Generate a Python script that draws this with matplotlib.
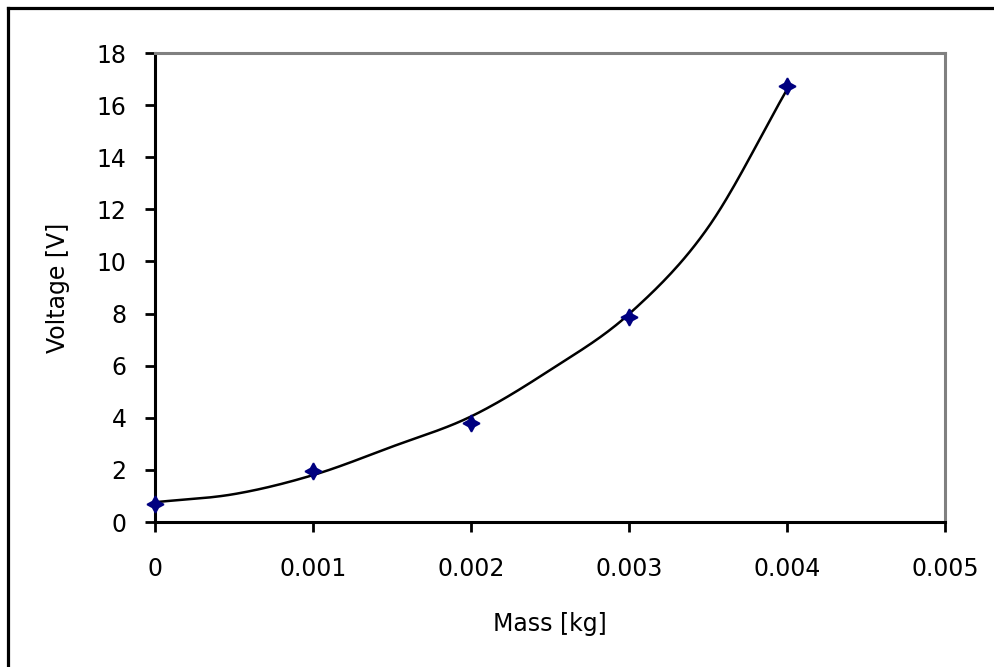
import numpy as np
import matplotlib
matplotlib.use("Agg")
import matplotlib.pyplot as plt
from matplotlib.lines import Line2D

# measured points
mass = [0.0, 0.001, 0.002, 0.003, 0.004]
voltage = [0.7, 1.97, 3.79, 7.85, 16.74]

# smooth fit curve
fit_mass = [0.0, 0.0005, 0.001, 0.0015, 0.002, 0.0025, 0.003, 0.0035, 0.004]
fit_voltage = [0.76, 1.07, 1.80, 2.89, 4.05, 5.83, 7.98, 11.3, 16.6]

x_ticks = [0, 0.001, 0.002, 0.003, 0.004, 0.005]
x_tick_labels = ["0", "0.001", "0.002", "0.003", "0.004", "0.005"]
y_ticks = [0, 2, 4, 6, 8, 10, 12, 14, 16, 18]


def smooth(xp, yp, n=30):
    # catmull-rom through the given points
    xp = np.asarray(xp, float)
    yp = np.asarray(yp, float)
    px = np.concatenate([[2*xp[0]-xp[1]], xp, [2*xp[-1]-xp[-2]]])
    py = np.concatenate([[2*yp[0]-yp[1]], yp, [2*yp[-1]-yp[-2]]])
    t = np.linspace(0, 1, n, endpoint=False)
    ox, oy = [], []
    for i in range(1, len(px) - 2):
        for p, o in ((px, ox), (py, oy)):
            p0, p1, p2, p3 = p[i-1], p[i], p[i+1], p[i+2]
            o.extend(0.5*(2*p1 + (-p0+p2)*t + (2*p0-5*p1+4*p2-p3)*t**2
                          + (-p0+3*p1-3*p2+p3)*t**3))
    ox.append(xp[-1])
    oy.append(yp[-1])
    return ox, oy


plt.rcParams['font.family'] = ['DejaVu Sans']

fig = plt.figure(figsize=(9.95, 6.67), dpi=100)
ax = fig.add_axes([155/995, 1-522/667, (945-155)/995, (522-53)/667])

cx, cy = smooth(fit_mass, fit_voltage)
ax.plot(cx, cy, color='black', lw=1.8, zorder=2)
ax.plot(mass, voltage, linestyle='none', marker=(4, 1, 0), markersize=12,
        color='#000080', markeredgewidth=1.2, zorder=3, clip_on=False)

ax.set_xlim(0, 0.005)
ax.set_ylim(0, 18)
ax.set_xticks(x_ticks)
ax.set_xticklabels(x_tick_labels)
ax.set_yticks(y_ticks)
ax.tick_params(direction='out', length=7.5, width=2, labelsize=17, colors='black')
ax.tick_params(axis='x', pad=18)
ax.tick_params(axis='y', pad=13)
for s in ['left', 'bottom']:
    ax.spines[s].set_linewidth(2.2)
    ax.spines[s].set_color('black')
for s in ['top', 'right']:
    ax.spines[s].set_linewidth(2.2)
    ax.spines[s].set_color('#808080')

ax.set_xlabel('Mass [kg]', fontsize=17, labelpad=22)
ax.set_ylabel('Voltage [V]', fontsize=17, labelpad=19)

# outer chart border (only left and top visible in the crop)
fig.add_artist(Line2D([8.3/995, 8.3/995], [0, 1 - 8.3/667], color='black', lw=2.3,
                      transform=fig.transFigure))
fig.add_artist(Line2D([8.3/995, 1], [1 - 8.3/667, 1 - 8.3/667], color='black', lw=2.3,
                      transform=fig.transFigure))

fig.savefig('out.png', dpi=100)
